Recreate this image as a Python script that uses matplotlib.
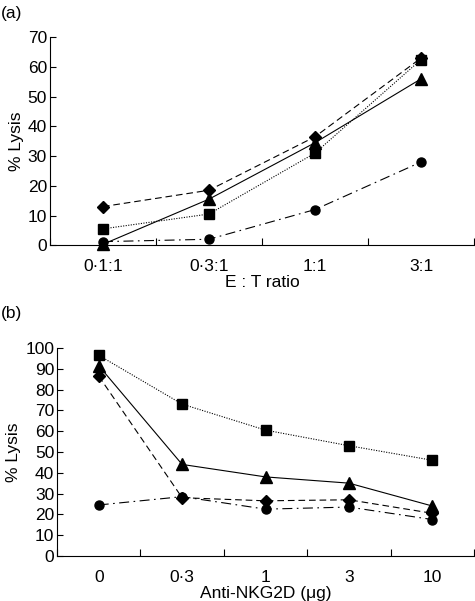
import numpy as np
import matplotlib
matplotlib.use("Agg")
import matplotlib.pyplot as plt

plt.rcParams['font.family'] = ['Liberation Sans', 'DejaVu Sans']

# panel (a)
et_labels = ["0\u00b71:1", "0\u00b73:1", "1:1", "3:1"]
a_diamond = [13, 18.5, 36.5, 63]
a_square = [5.5, 10.5, 31, 62.5]
a_triangle = [0.3, 15.5, 34.5, 56]
a_circle = [1.2, 2, 12, 28]

# panel (b)
ab_labels = ["0", "0\u00b73", "1", "3", "10"]
b_square = [96.5, 73, 60.5, 53, 46]
b_triangle = [91.5, 44, 38, 35, 24]
b_diamond = [86.5, 28, 26.5, 27, 20.5]
b_circle = [24.5, 28.5, 22.5, 23.5, 17.5]

FS = 12.5

styles = {
	"diamond": dict(marker="D", ms=6, ls=(0, (6, 3.5))),
	"square": dict(marker="s", ms=6.5, ls=(0, (1, 1.3))),
	"triangle": dict(marker="^", ms=8.5, ls="-"),
	"circle": dict(marker="o", ms=6.5, ls=(0, (9, 4, 1.5, 4))),
}

def style_axes(ax, n, labels, ymax, ystep, ylabel, xlabel):
	ax.set_xlim(-0.5, n - 0.5)
	ax.set_ylim(0, ymax)
	ax.set_xticks(np.arange(n))
	ax.set_xticklabels(labels)
	ax.set_xticks(np.arange(n + 1) - 0.5, minor=True)
	ax.tick_params(axis="x", which="major", length=0, pad=10, labelsize=FS)
	ax.tick_params(axis="x", which="minor", direction="in", length=5, width=0.8)
	ax.set_yticks(np.arange(0, ymax + 1, ystep))
	ax.tick_params(axis="y", direction="in", length=4, width=0.8, labelsize=FS, pad=2)
	for s in ["top", "right"]:
		ax.spines[s].set_visible(False)
	for s in ["left", "bottom"]:
		ax.spines[s].set_linewidth(0.8)
	ax.set_ylabel(ylabel, fontsize=FS, labelpad=3)
	ax.set_xlabel(xlabel, fontsize=FS, labelpad=1)

def plot_series(ax, name, values):
	x = np.arange(len(values))
	ax.plot(x, values, color="black", lw=0.8, mfc="black", mec="black", clip_on=False, **styles[name])

fig = plt.figure(figsize=(4.75, 6.01), dpi=100)

ax1 = fig.add_axes([0.105, 0.592, 0.893, 0.346])
plot_series(ax1, "circle", a_circle)
plot_series(ax1, "square", a_square)
plot_series(ax1, "diamond", a_diamond)
plot_series(ax1, "triangle", a_triangle)
style_axes(ax1, 4, et_labels, 70, 10, "% Lysis", "E : T ratio")
fig.text(0.002, 0.978, "(a)", fontsize=FS, va="center")

ax2 = fig.add_axes([0.12, 0.075, 0.878, 0.346])
plot_series(ax2, "circle", b_circle)
plot_series(ax2, "diamond", b_diamond)
plot_series(ax2, "square", b_square)
plot_series(ax2, "triangle", b_triangle)
style_axes(ax2, 5, ab_labels, 100, 10, "% Lysis", "Anti-NKG2D (\u03bcg)")
fig.text(0.002, 0.478, "(b)", fontsize=FS, va="center")

fig.savefig("out.png", dpi=100)
